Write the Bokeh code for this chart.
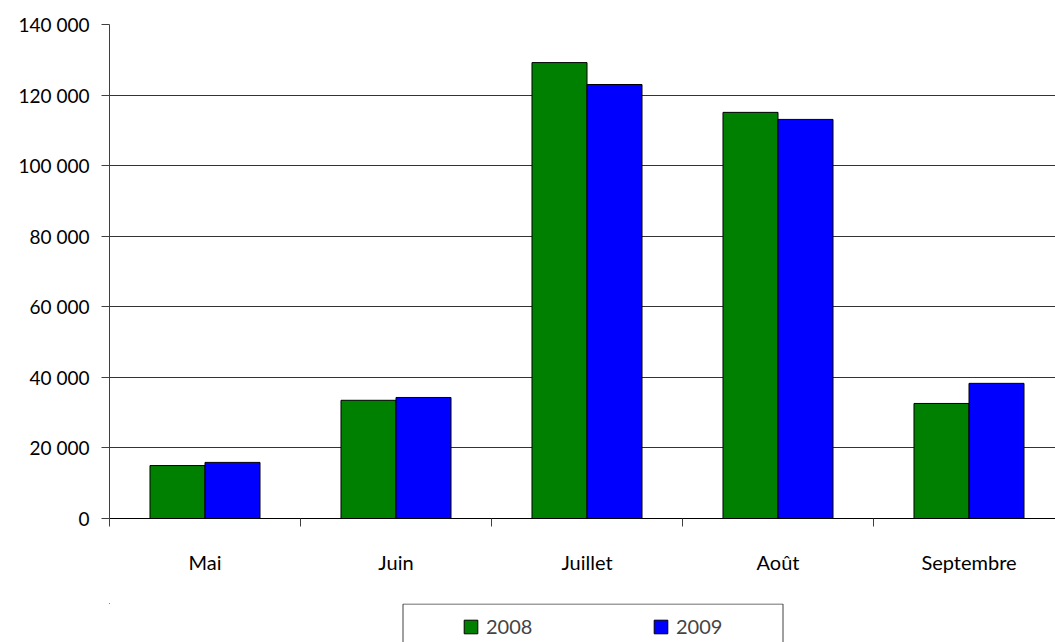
from bokeh.plotting import figure
from bokeh.layouts import column
from bokeh.models import ColumnDataSource, FixedTicker, Legend, LegendItem
from bokeh.embed import file_html
from bokeh.resources import INLINE

months = ["Mai", "Juin", "Juillet", "Août", "Septembre"]
v2008 = [15000, 33500, 129200, 115100, 32600]
v2009 = [15900, 34300, 123000, 113100, 38300]
yticks = [0, 20000, 40000, 60000, 80000, 100000, 120000, 140000]
series = ["2008", "2009"]
colors = ["#008000", "#0000FF"]

FONT = "Lato"
bw = 0.288
idx = list(range(len(months)))
src = ColumnDataSource(dict(
    x08=[i + 0.5 - bw / 2 for i in idx],
    x09=[i + 0.5 + bw / 2 for i in idx],
    v08=v2008, v09=v2009,
))

p = figure(width=1055, height=603, output_backend="svg", toolbar_location=None,
           x_range=(0, 946 / 191), y_range=(0, 140000),
           min_border_left=109, min_border_right=0, min_border_top=24, min_border_bottom=85)
p.outline_line_color = None

p.vbar(x="x08", top="v08", width=bw, source=src, fill_color=colors[0], line_color="black", line_width=1)
p.vbar(x="x09", top="v09", width=bw, source=src, fill_color=colors[1], line_color="black", line_width=1)

# x axis
p.xaxis.ticker = FixedTicker(ticks=[i + 0.5 for i in idx], minor_ticks=[float(i) for i in range(len(months) + 1)])
p.xaxis.major_label_overrides = {i + 0.5: m for i, m in zip(idx, months)}
p.xaxis.major_tick_out = 0
p.xaxis.major_tick_in = 0
p.xaxis.minor_tick_out = 8
p.xaxis.minor_tick_in = 0
p.xaxis.minor_tick_line_color = "#404040"
p.xaxis.axis_line_color = "black"
p.xaxis.major_label_standoff = 23
p.xaxis.major_label_text_font = FONT
p.xaxis.major_label_text_font_size = "20px"
p.xaxis.major_label_text_color = "black"
p.xgrid.visible = False

# y axis
p.yaxis.ticker = FixedTicker(ticks=yticks, minor_ticks=[])
p.yaxis.major_label_overrides = {v: f"{v:,}".replace(",", " ") for v in yticks}
p.yaxis.major_tick_out = 8
p.yaxis.major_tick_in = 0
p.yaxis.major_tick_line_color = "#404040"
p.yaxis.axis_line_color = "#404040"
p.yaxis.major_label_standoff = 12
p.yaxis.major_label_text_font = FONT
p.yaxis.major_label_text_font_size = "19px"
p.yaxis.major_label_text_color = "black"
p.ygrid.ticker = FixedTicker(ticks=yticks)
p.ygrid.grid_line_color = "#333333"
p.ygrid.grid_line_width = 1

# legend strip (box cut by the bottom edge, as in the reference); its frame is aligned with p's frame
p2 = figure(width=1055, height=39, output_backend="svg", toolbar_location=None,
            x_range=(109, 1055), y_range=(39, 0),
            x_axis_location=None, y_axis_location=None,
            min_border_left=0, min_border_right=0, min_border_top=0, min_border_bottom=0)
p2.grid.visible = False
p2.outline_line_color = None
p2.multi_line(xs=[[402.5, 402.5, 782.5, 782.5]], ys=[[40, 0.5, 0.5, 40]], line_color="#404040", line_width=1)
d08 = p2.vbar(x=[-1000], bottom=[-1000], top=[-999], width=1, fill_color=colors[0], line_color="black")
d09 = p2.vbar(x=[-1000], bottom=[-1000], top=[-999], width=1, fill_color=colors[1], line_color="black")
legend = Legend(items=[LegendItem(label=series[0], renderers=[d08]), LegendItem(label=series[1], renderers=[d09])],
                orientation="horizontal", location=(353, 4),
                padding=0, margin=0, spacing=16, glyph_width=17, glyph_height=17,
                label_standoff=7, label_width=150, label_height=17,
                label_text_font=FONT, label_text_font_size="20px",
                border_line_alpha=0, background_fill_alpha=0)
p2.add_layout(legend, "center")

open("out.html", "w").write(file_html(column(p, p2, spacing=0), INLINE))
